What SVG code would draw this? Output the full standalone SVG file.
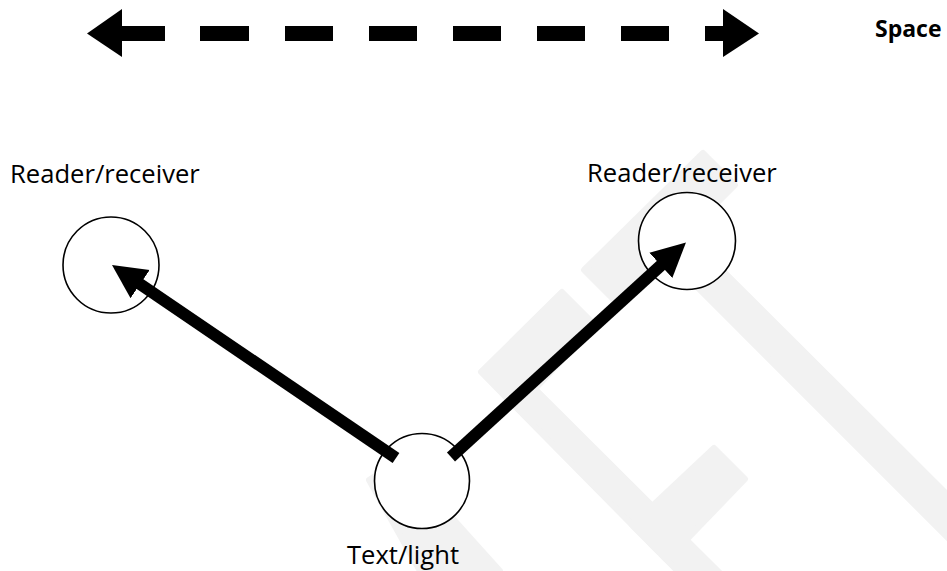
<svg xmlns="http://www.w3.org/2000/svg" width="947" height="571" viewBox="0 0 947 571">
<style>
.wm{fill:#f2f2f2;stroke:#f2f2f2;stroke-width:6;stroke-linejoin:round}
.node{fill:#ffffff;stroke:#000000;stroke-width:1.6}
.lbl{font-family:"Open Sans","Liberation Sans",sans-serif;font-size:25.6px;fill:#000000}
.bold{font-weight:bold;font-size:23px}
.conn{stroke:#000000;stroke-width:12;fill:none}
.dash{fill:#000000}
</style>
<defs>
<marker id="ah" markerUnits="userSpaceOnUse" markerWidth="40" markerHeight="40" viewBox="0 0 40 40" refX="4" refY="18" orient="auto">
<path d="M0,1 L34,18 L0,35 Z" fill="#000000"/>
</marker>
</defs>
<rect width="947" height="571" fill="#ffffff"/>
<g id="watermark">
<polygon class="wm" points="703,153 735,185 617,303 584,270"/>
<polygon class="wm" points="688,236 1000,547 1000,590 667,257"/>
<polygon class="wm" points="562,292 595,325 535,389 761,614 720,614 481,372"/>
<polygon class="wm" points="714,448 745,479 667,560 632,525"/>
<polygon class="wm" points="369,480 400,460 500,571 420,571"/>
</g>
<g id="space-arrow">
<polygon class="dash" points="87,33.5 122,9 122,57"/>
<rect class="dash" x="121" y="26" width="44" height="15"/>
<rect class="dash" x="200" y="26" width="49" height="15"/>
<rect class="dash" x="285" y="26" width="48" height="15"/>
<rect class="dash" x="369" y="26" width="48" height="15"/>
<rect class="dash" x="453" y="26" width="48" height="15"/>
<rect class="dash" x="537" y="26" width="48" height="15"/>
<rect class="dash" x="621" y="26" width="48" height="15"/>
<rect class="dash" x="705" y="26" width="19" height="15"/>
<polygon class="dash" points="759,33.5 723,9 723,57"/>
</g>
<text class="lbl bold" x="875" y="37">Space</text>
<g id="reader-left">
<circle class="node" cx="111" cy="265" r="48"/>
<text class="lbl" x="10" y="182.5">Reader/receiver</text>
</g>
<g id="reader-right">
<circle class="node" cx="687" cy="241" r="48.5"/>
<text class="lbl" x="587" y="182">Reader/receiver</text>
</g>
<g id="text-light">
<circle class="node" cx="422" cy="481" r="47.5"/>
<text class="lbl" x="347" y="564">Text/light</text>
</g>
<g id="connectors">
<line class="conn" x1="396" y1="458" x2="136.8" y2="281.9" marker-end="url(#ah)"/>
<line class="conn" x1="451" y1="457" x2="663.8" y2="262.7" marker-end="url(#ah)"/>
</g>
</svg>
